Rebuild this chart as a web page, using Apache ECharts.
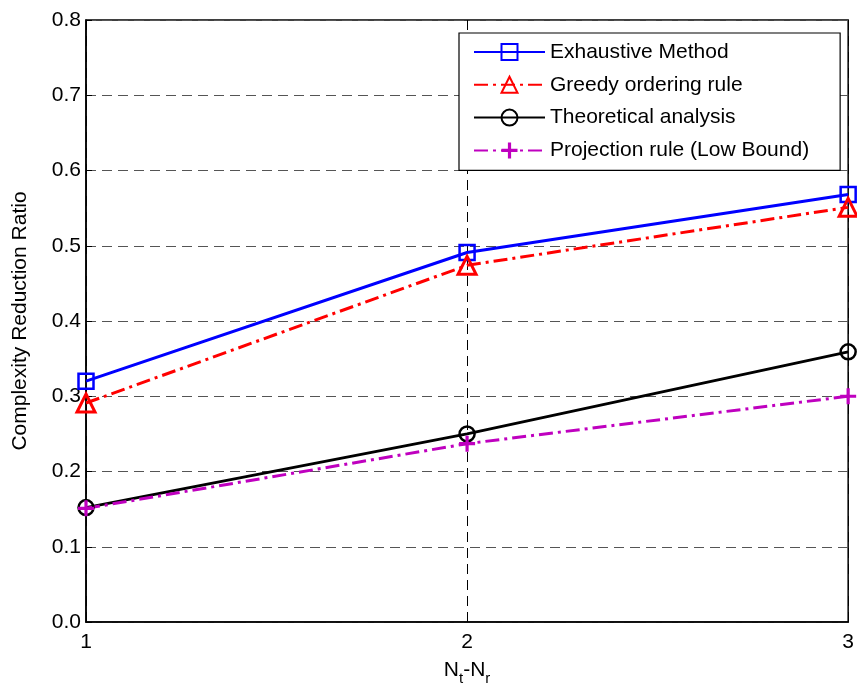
<!DOCTYPE html>
<html>
<head>
<meta charset="utf-8">
<script src="https://cdn.jsdelivr.net/npm/echarts@6/dist/echarts.min.js"></script>
<style>html,body{margin:0;padding:0;background:#fff;}#c{width:857px;height:693px;}</style>
</head>
<body>
<div id="c"></div>
<script>
var xValues = [1, 2, 3];
var exhaustive = [0.32, 0.491, 0.568];
var greedy = [0.291, 0.474, 0.551];
var theoretical = [0.152, 0.25, 0.359];
var projection = [0.151, 0.237, 0.30];
var seriesNames = ['Exhaustive Method', 'Greedy ordering rule', 'Theoretical analysis', 'Projection rule (Low Bound)'];

function pairs(v) { return xValues.map(function (x, i) { return [x, v[i]]; }); }
var FONT = 'Liberation Sans, Arial, sans-serif';
var dashDot = [14, 5, 3, 5];
var plusPath = 'path://M4,0H6V4H10V6H6V10H4V6H0V4H4Z';

var chart = echarts.init(document.getElementById('c'));
chart.setOption({
  backgroundColor: '#fff',
  animation: false,
  grid: { left: 86, right: 7, top: 20, bottom: 71, show: true, borderColor: '#000', borderWidth: 1.5, backgroundColor: '#fff' },
  xAxis: {
    type: 'value', min: 1, max: 3, interval: 1,
    name: '{n|N}{s|t}{n|-N}{s|r}', nameLocation: 'middle', nameGap: 33,
    nameTextStyle: { rich: { n: { fontSize: 21, fontFamily: FONT, color: '#000' }, s: { fontSize: 15, fontFamily: FONT, color: '#000', verticalAlign: 'bottom', padding: [16, 0, 0, 0] } } },
    axisLine: { lineStyle: { color: '#000', width: 1.5 } },
    axisTick: { inside: true, length: 6, lineStyle: { color: '#000' } },
    axisLabel: { fontSize: 21, fontFamily: FONT, color: '#000', margin: 10 },
    splitLine: { show: true, lineStyle: { color: '#000', type: [10, 6], width: 1 } }
  },
  yAxis: {
    type: 'value', min: 0, max: 0.8, interval: 0.1,
    name: 'Complexity Reduction Ratio', nameLocation: 'middle', nameGap: 55,
    nameTextStyle: { fontSize: 21, fontFamily: FONT, color: '#000' },
    axisLine: { show: true, lineStyle: { color: '#000', width: 1.5 } },
    axisTick: { show: true, inside: true, length: 6, lineStyle: { color: '#000' } },
    axisLabel: { fontSize: 21, fontFamily: FONT, color: '#000', margin: 5, formatter: function (v) { return v.toFixed(1); } },
    splitLine: { show: true, lineStyle: { color: '#555', type: [10, 6], width: 1 } }
  },
  legend: {
    orient: 'vertical', left: 459, top: 33,
    backgroundColor: '#fff', borderColor: '#000', borderWidth: 1.2,
    padding: [8, 31, 9, 14],
    itemWidth: 71, itemHeight: 20, itemGap: 10.8,
    textStyle: { fontSize: 21, lineHeight: 22, fontFamily: FONT, color: '#000' },
    data: seriesNames
  },
  series: [
    { name: seriesNames[0], type: 'line', data: pairs(exhaustive), symbol: 'rect', symbolSize: 15,
      lineStyle: { color: '#0000ff', width: 3 }, itemStyle: { color: 'rgba(255,255,255,0)', borderColor: '#0000ff', borderWidth: 2.5 } },
    { name: seriesNames[1], type: 'line', data: pairs(greedy), symbol: 'triangle', symbolSize: 18,
      lineStyle: { color: '#ff0000', width: 3, type: dashDot }, itemStyle: { color: 'rgba(255,255,255,0)', borderColor: '#ff0000', borderWidth: 3 } },
    { name: seriesNames[2], type: 'line', data: pairs(theoretical), symbol: 'circle', symbolSize: 15,
      lineStyle: { color: '#000', width: 3 }, itemStyle: { color: 'rgba(255,255,255,0)', borderColor: '#000', borderWidth: 2.5 } },
    { name: seriesNames[3], type: 'line', data: pairs(projection), symbol: plusPath, symbolSize: 16,
      lineStyle: { color: '#bf00bf', width: 3, type: dashDot }, itemStyle: { color: '#bf00bf' } }
  ]
});
</script>
</body>
</html>
